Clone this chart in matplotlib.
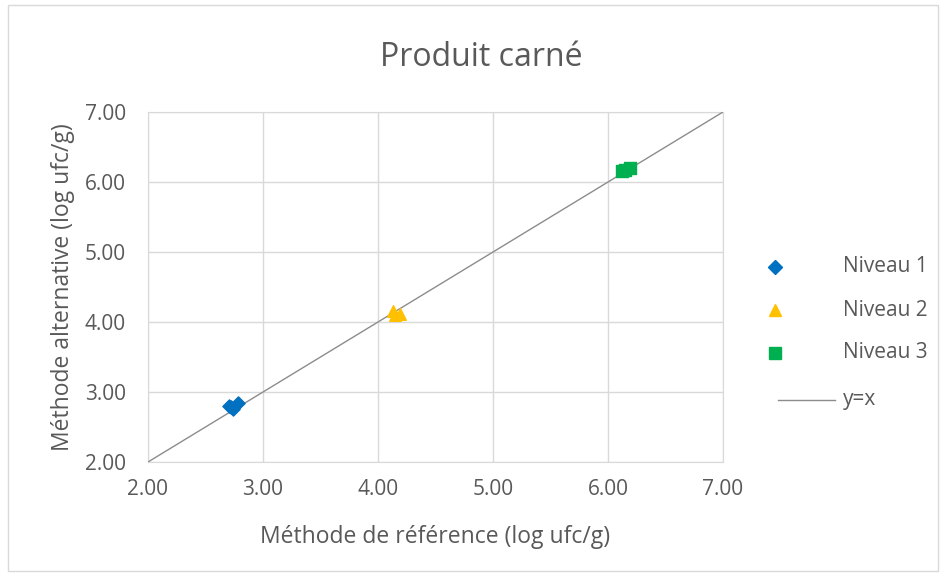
import matplotlib
matplotlib.use("Agg")
import matplotlib.pyplot as plt
import matplotlib.patches as mp
from matplotlib.lines import Line2D
from matplotlib.ticker import FormatStrFormatter, MultipleLocator

plt.rcParams.update({
    "font.family": ["Open Sans", "DejaVu Sans"],
    "text.color": "#595959",
    "axes.labelcolor": "#595959",
    "xtick.color": "#595959",
    "ytick.color": "#595959",
})

# ── Data (log ufc/g) ─────────────────────────────────────────
niv1_ref = [2.70, 2.74, 2.78, 2.72]
niv1_alt = [2.80, 2.76, 2.84, 2.79]
niv2_ref = [4.13, 4.15, 4.19]
niv2_alt = [4.15, 4.10, 4.12]
niv3_ref = [6.12, 6.15, 6.19]
niv3_alt = [6.15, 6.17, 6.20]
ident = [2.0, 7.0]

GRID = "#D9D9D9"
C1, C2, C3, CL = "#0070C0", "#FFC000", "#00B050", "#8C8C8C"

fig = plt.figure(figsize=(9.42, 5.75), dpi=100)
ax = fig.add_axes([148/942, 113/575, 575/942, 350/575])

ax.scatter(niv1_ref, niv1_alt, marker="D", s=45, color=C1, zorder=4)
ax.scatter(niv2_ref, niv2_alt, marker="^", s=70, color=C2, zorder=4)
ax.scatter(niv3_ref, niv3_alt, marker="s", s=65, color=C3, zorder=4)
ax.plot(ident, ident, color=CL, lw=1.0, zorder=3)

ax.set_xlim(2, 7); ax.set_ylim(2, 7)
ax.xaxis.set_major_locator(MultipleLocator(1))
ax.yaxis.set_major_locator(MultipleLocator(1))
ax.xaxis.set_major_formatter(FormatStrFormatter("%.2f"))
ax.yaxis.set_major_formatter(FormatStrFormatter("%.2f"))
ax.tick_params(length=0, labelsize=15)
ax.tick_params(axis="y", pad=16)
ax.tick_params(axis="x", pad=12)
ax.grid(True, color=GRID, lw=1.0, zorder=0)
ax.set_axisbelow(True)
for s in ax.spines.values():
    s.set_color(GRID)

ax.set_xlabel("Méthode de référence (log ufc/g)", fontsize=16.5, labelpad=18)
ax.set_ylabel("Méthode alternative (log ufc/g)", fontsize=16.5, labelpad=7)
fig.text(481/942, 1 - 58/575, "Produit carné", ha="center", va="center",
         fontsize=23, color="#595959")

# ── Legend (drawn by hand to match Excel layout) ─────────────
leg_items = [("Niveau 1", "D", C1, 7), ("Niveau 2", "^", C2, 9), ("Niveau 3", "s", C3, 8.5)]
leg_y = [267, 310, 353]
for (name, mk, col, ms), yy in zip(leg_items, leg_y):
    fy = 1 - yy/575
    fig.add_artist(Line2D([775/942], [fy], marker=mk, color=col, markersize=ms,
                          linestyle="none", transform=fig.transFigure))
    fig.text(843/942, fy, name, ha="left", va="center", fontsize=15)
fy = 1 - 400/575
fig.add_artist(Line2D([778/942, 835/942], [fy, fy], color=CL, lw=1.0,
                      transform=fig.transFigure))
fig.text(843/942, fy, "y=x", ha="left", va="center", fontsize=15)

# chart border
fig.patches.append(mp.Rectangle((8/942, 4/575), 930/942, 566/575, transform=fig.transFigure,
                                fill=False, edgecolor=GRID, lw=1.0))

fig.savefig("out.png", dpi=100, facecolor="white")
